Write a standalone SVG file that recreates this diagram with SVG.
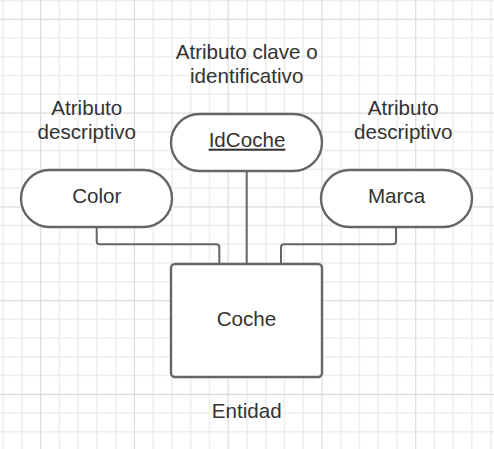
<svg xmlns="http://www.w3.org/2000/svg" width="494" height="449" viewBox="0 0 494 449">
<style>
.minor{stroke:#eeeeee;stroke-width:1.6;fill:none}
.major{stroke:#dcdcdc;stroke-width:1.2;fill:none}
.shape{fill:#ffffff;stroke:#666666;stroke-width:2.4}
.conn{fill:none;stroke:#666666;stroke-width:2}
.t{font-family:"Liberation Sans",Arial,sans-serif;font-size:20.6px;fill:#333333;text-anchor:middle}
</style>
<rect x="0" y="0" width="494" height="449" fill="#ffffff"/>
<g id="grid">
<path class="minor" d="M3.2,0V449M21.95,0V449M59.45,0V449M78.2,0V449M96.95,0V449M115.7,0V449M153.2,0V449M171.95,0V449M190.7,0V449M209.45,0V449M246.95,0V449M265.7,0V449M284.45,0V449M303.2,0V449M340.7,0V449M359.45,0V449M378.2,0V449M396.95,0V449M434.45,0V449M453.2,0V449M471.95,0V449M490.7,0V449M0,0.55H494M0,38.05H494M0,56.8H494M0,75.55H494M0,94.3H494M0,131.8H494M0,150.55H494M0,169.3H494M0,188.05H494M0,225.55H494M0,244.3H494M0,263.05H494M0,281.8H494M0,319.3H494M0,338.05H494M0,356.8H494M0,375.55H494M0,413.05H494M0,431.8H494"/>
<path class="major" d="M40.7,0V449M134.45,0V449M228.2,0V449M321.95,0V449M415.7,0V449M0,19.3H494M0,113.05H494M0,206.8H494M0,300.55H494M0,394.3H494"/>
</g>
<g id="connectors">
<path class="conn" d="M246.7,171V264"/>
<path class="conn" d="M96.7,227V241.3Q96.7,244.3 99.7,244.3H216.3Q219.3,244.3 219.3,247.3V264"/>
<path class="conn" d="M396,227V241.3Q396,244.3 393,244.3H284Q281,244.3 281,247.3V264"/>
</g>
<g id="label-clave">
<text class="t" x="246.7" y="59.3">Atributo clave o</text>
<text class="t" x="246.7" y="83.3">identificativo</text>
</g>
<g id="label-desc-left">
<text class="t" x="86.8" y="115.3">Atributo</text>
<text class="t" x="86.8" y="139.3">descriptivo</text>
</g>
<g id="label-desc-right">
<text class="t" x="403.2" y="115.3">Atributo</text>
<text class="t" x="403.2" y="139.3">descriptivo</text>
</g>
<g id="node-idcoche">
<rect class="shape" x="171" y="114" width="151" height="57" rx="28.5" ry="28.5"/>
<text class="t" x="247" y="146.7" text-decoration="underline">IdCoche</text>
</g>
<g id="node-color">
<rect class="shape" x="21" y="170" width="151" height="57" rx="28.5" ry="28.5"/>
<text class="t" x="96.8" y="203.3">Color</text>
</g>
<g id="node-marca">
<rect class="shape" x="321" y="170" width="151" height="57" rx="28.5" ry="28.5"/>
<text class="t" x="396.5" y="203.3">Marca</text>
</g>
<g id="node-coche">
<rect class="shape" x="171" y="264" width="151" height="113" rx="4" ry="4"/>
<text class="t" x="246.5" y="326">Coche</text>
</g>
<g id="label-entidad">
<text class="t" x="246.7" y="417.7">Entidad</text>
</g>
</svg>
